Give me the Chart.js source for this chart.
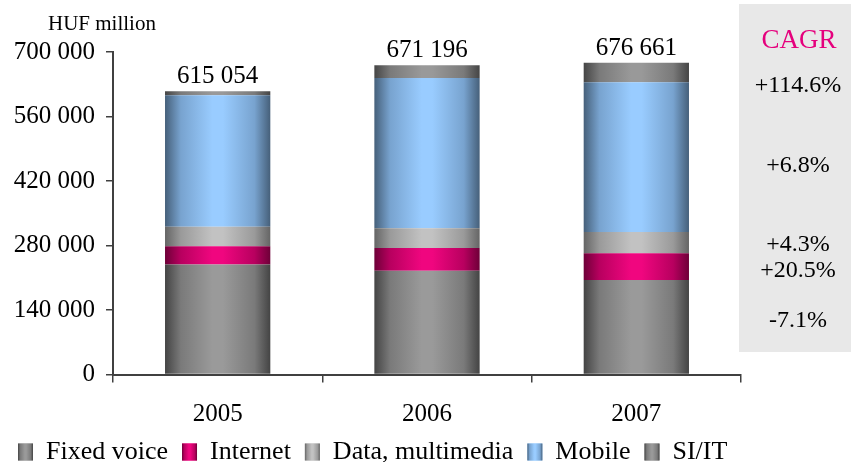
<!DOCTYPE html>
<html>
<head>
<meta charset="utf-8">
<script src="https://cdn.jsdelivr.net/npm/chart.js@4/dist/chart.umd.min.js"></script>
<style>
  html, body { margin: 0; padding: 0; background: #fff; }
  #wrap { width: 851px; height: 462px; }
</style>
</head>
<body>
<div id="wrap"><canvas id="revChart" width="851" height="462"></canvas></div>
<script>
const years = ["2005", "2006", "2007"];
const fixedVoice = [238599, 225000, 205300];
const internet = [40000, 49500, 58100];
const dataMultimedia = [42300, 43000, 46000];
const mobile = [285000, 326000, 325100];
const siIt = [9155, 27696, 42161];
const yTicks = [0, 140000, 280000, 420000, 560000, 700000];
const cagrLabels = ["+114.6%", "+6.8%", "+4.3%", "+20.5%", "-7.1%"];

const FONT = "'Liberation Serif', 'Times New Roman', serif";
const BAR_PCT = 0.503;

// cylinder look: dark edges, light middle
const shades = {
  fixed:   ["#444444", "#7a7a7a", "#9a9a9a"],
  inet:    ["#6e0038", "#b8005f", "#f0067f"],
  data:    ["#656565", "#9a9a9a", "#c2c2c2"],
  mobile:  ["#46607a", "#78a3cf", "#99ccff"],
  si:      ["#454545", "#7a7a7a", "#999999"]
};

function cylinder(ctx, x0, x1, s) {
  const g = ctx.createLinearGradient(x0, 0, x1, 0);
  g.addColorStop(0, s[0]);
  g.addColorStop(0.15, s[1]);
  g.addColorStop(0.45, s[2]);
  g.addColorStop(0.55, s[2]);
  g.addColorStop(0.85, s[1]);
  g.addColorStop(1, s[0]);
  return g;
}

function fmt(n) {
  return String(n).replace(/\B(?=(\d{3})+(?!\d))/g, " ");
}

const series = [
  { label: "Fixed voice", data: fixedVoice, s: shades.fixed },
  { label: "Internet", data: internet, s: shades.inet },
  { label: "Data, multimedia", data: dataMultimedia, s: shades.data },
  { label: "Mobile", data: mobile, s: shades.mobile },
  { label: "SI/IT", data: siIt, s: shades.si }
];

// grey CAGR panel, bar shading, unit caption, totals and legend gradients
const extras = {
  id: "extras",
  beforeDraw(chart) {
    const ctx = chart.ctx;
    const a = chart.chartArea;
    ctx.save();
    ctx.fillStyle = "#e8e8e8";
    ctx.fillRect(a.right - 2, 4, chart.width - a.right + 2, 348);
    ctx.restore();
  },
  beforeDatasetsDraw(chart) {
    chart.data.datasets.forEach((ds, di) => {
      chart.getDatasetMeta(di).data.forEach(bar => {
        const half = bar.width / 2;
        bar.options.backgroundColor = cylinder(chart.ctx, bar.x - half, bar.x + half, series[di].s);
      });
    });
  },
  afterDatasetsDraw(chart) {
    const ctx = chart.ctx;
    const xs = chart.scales.x, ys = chart.scales.y;
    ctx.save();
    ctx.fillStyle = "#000";
    ctx.textAlign = "center";
    ctx.textBaseline = "alphabetic";
    ctx.font = "25px " + FONT;
    years.forEach((y, i) => {
      const total = series.reduce((sum, d) => sum + d.data[i], 0);
      ctx.fillText(fmt(total), xs.getPixelForValue(i), ys.getPixelForValue(total) - 8);
    });
    ctx.restore();
  },
  afterDraw(chart) {
    const ctx = chart.ctx;
    ctx.save();
    ctx.fillStyle = "#000";
    ctx.textBaseline = "alphabetic";
    ctx.textAlign = "left";
    ctx.font = "21px " + FONT;
    ctx.fillText("HUF million", 48, 30);

    ctx.textAlign = "center";
    ctx.font = "27px " + FONT;
    ctx.fillStyle = "#e5007d";
    ctx.fillText("CAGR", 799, 48);
    ctx.fillStyle = "#000";
    ctx.font = "24px " + FONT;
    const baselines = [92, 172, 251, 277, 327];
    cagrLabels.forEach((t, i) => ctx.fillText(t, 798, baselines[i]));

    // legend boxes drawn with the same cylinder shading
    const lab = chart.options.plugins.legend.labels;
    const fs = lab.font.size;
    (chart.legend.legendHitBoxes || []).forEach((hb, i) => {
      const top = hb.top + Math.max((fs - lab.boxHeight) / 2, 0);
      ctx.fillStyle = cylinder(ctx, hb.left, hb.left + lab.boxWidth, series[i].s);
      ctx.fillRect(hb.left, top, lab.boxWidth, lab.boxHeight);
    });
    ctx.restore();
  }
};

new Chart(document.getElementById("revChart"), {
  type: "bar",
  data: {
    labels: years,
    datasets: series.map(d => ({
      label: d.label,
      data: d.data,
      backgroundColor: c => d.s[2],
      borderWidth: 0,
      barPercentage: BAR_PCT,
      categoryPercentage: 1
    }))
  },
  options: {
    responsive: false,
    animation: false,
    layout: { padding: { left: 4, right: 0, top: 52, bottom: -13 } },
    plugins: {
      title: { display: false },
      tooltip: { enabled: false },
      legend: {
        position: "bottom",
        align: "start",
        labels: {
          color: "#000",
          font: { family: FONT, size: 26 },
          boxWidth: 15,
          boxHeight: 17,
          padding: 14
        }
      }
    },
    scales: {
      x: {
        stacked: true,
        grid: { display: true, drawOnChartArea: false, color: "#404040", lineWidth: 1.5, tickLength: 8 },
        border: { display: true, color: "#404040", width: 2 },
        ticks: { color: "#000", font: { family: FONT, size: 25 }, padding: 17 },
        afterFit: scale => { scale.height = 50.5; }
      },
      y: {
        stacked: true,
        min: 0,
        max: 700000,
        afterBuildTicks: scale => { scale.ticks = yTicks.map(v => ({ value: v })); },
        grid: { display: true, drawOnChartArea: false, color: "#404040", lineWidth: 1.5, tickLength: 7 },
        border: { display: true, color: "#404040", width: 2 },
        ticks: { color: "#000", font: { family: FONT, size: 25 }, padding: 11, callback: v => fmt(v) },
        afterFit: scale => { scale.width = 109; }
      },
      // empty right-hand axis keeps room for the CAGR column
      side: {
        type: "linear",
        position: "right",
        display: true,
        grid: { display: false },
        border: { display: false },
        ticks: { display: false },
        afterFit: scale => { scale.width = 110; }
      }
    }
  },
  plugins: [extras]
});
</script>
</body>
</html>
